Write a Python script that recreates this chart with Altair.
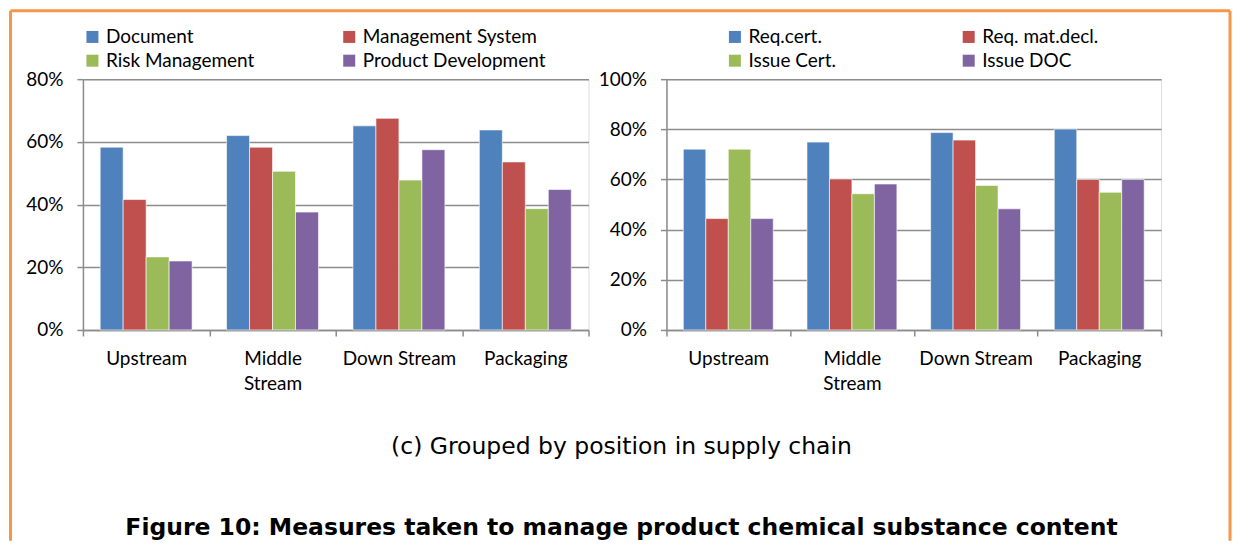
import altair as alt
import pandas as pd

categories = ["Upstream", "Middle Stream", "Down Stream", "Packaging"]

left_series = ["Document", "Management System", "Risk Management", "Product Development"]
document = [58.3, 62.0, 65.1, 63.8]
management_system = [41.6, 58.3, 67.5, 53.6]
risk_management = [23.3, 50.6, 47.8, 38.7]
product_development = [22.0, 37.6, 57.5, 44.8]

right_series = ["Req.cert.", "Req. mat.decl.", "Issue Cert.", "Issue DOC"]
req_cert = [72.1, 74.9, 78.7, 80.1]
req_mat_decl = [44.4, 60.2, 75.7, 60.0]
issue_cert = [72.1, 54.3, 57.6, 54.9]
issue_doc = [44.4, 58.2, 48.3, 60.0]

left_ticks = [0, 0.2, 0.4, 0.6, 0.8]
right_ticks = [0, 0.2, 0.4, 0.6, 0.8, 1.0]

caption = "(c) Grouped by position in supply chain"
figure_title = "Figure 10: Measures taken to manage product chemical substance content"

colors = ["#4F81BD", "#C0504D", "#9BBB59", "#8064A2"]
GRAY = "#8c8c8c"
ORANGE = "#F79646"
FONT = "Lato"


def build_df(series, values):
    rows = []
    for s, vals in zip(series, values):
        for c, v in zip(categories, vals):
            rows.append({"cat": c, "series": s, "value": v / 100.0})
    return pd.DataFrame(rows)


left_df = build_df(left_series, [document, management_system, risk_management, product_development])
right_df = build_df(right_series, [req_cert, req_mat_decl, issue_cert, issue_doc])


def panel(df, series, ymax, ticks, legend_x, col_pad, width, height):
    return alt.Chart(df).mark_bar(stroke="white", strokeWidth=0.6).encode(
        x=alt.X(
            "cat:N",
            sort=categories,
            scale=alt.Scale(paddingInner=0, paddingOuter=0),
            axis=alt.Axis(
                title=None, labelAngle=0, tickBand="extent", grid=False,
                domainColor=GRAY, domainWidth=1.5, tickColor=GRAY, tickWidth=1.5,
                tickSize=6, labelPadding=14, labelFont=FONT, labelFontSize=19,
                labelColor="black", labelLineHeight=25, labelBaseline="top",
                labelExpr="datum.value == 'Middle Stream' ? ['Middle', 'Stream'] : datum.value",
            ),
        ),
        xOffset=alt.XOffset(
            "series:N", sort=series,
            scale=alt.Scale(paddingInner=0, paddingOuter=0.75),
        ),
        y=alt.Y(
            "value:Q",
            scale=alt.Scale(domain=[0, ymax], nice=False),
            axis=alt.Axis(
                title=None, format=".0%", values=ticks, grid=True,
                gridColor=GRAY, gridWidth=1.5, domainColor=GRAY, domainWidth=1.5,
                tickColor=GRAY, tickWidth=1.5, tickSize=6, labelPadding=14,
                labelFont=FONT, labelFontSize=19, labelColor="black",
            ),
        ),
        color=alt.Color(
            "series:N", sort=series,
            scale=alt.Scale(domain=series, range=colors),
            legend=alt.Legend(
                title=None, orient="none", legendX=legend_x, legendY=-52,
                direction="horizontal",
                columns=2, columnPadding=col_pad, rowPadding=4,
                symbolType="square", symbolSize=144, symbolStrokeWidth=0,
                labelFont=FONT, labelFontSize=19, labelColor="black",
                labelOffset=4, padding=0, labelLimit=400,
            ),
        ),
    ).properties(width=width, height=height)


left_bars = panel(left_df, left_series, 0.8, left_ticks, 0, 85, 506, 251)
right_bars = panel(right_df, right_series, 1.0, right_ticks, 59, 123, 495, 251)

one = alt.Chart(pd.DataFrame({"k": [0]}))

border_left = one.mark_rule(color=ORANGE, strokeWidth=3).encode(
    x=alt.value(-72.5), y=alt.value(-68.5), y2=alt.value(462))
border_top = one.mark_rule(color=ORANGE, strokeWidth=3).encode(
    x=alt.value(-72.5), x2=alt.value(1148), y=alt.value(-68.5))
border_right = one.mark_rule(color=ORANGE, strokeWidth=3).encode(
    x=alt.value(1148), y=alt.value(-68.5), y2=alt.value(462))

cap_text = one.mark_text(
    text=caption, font="DejaVu Sans", fontSize=23.5, align="center",
    baseline="alphabetic", color="black",
).encode(x=alt.value(539), y=alt.value(375))

fig_text = one.mark_text(
    text=figure_title, font="DejaVu Sans", fontSize=23.5, fontWeight="bold",
    align="center", baseline="alphabetic", color="black",
).encode(x=alt.value(539), y=alt.value(456))

left = alt.layer(left_bars, border_left, border_top, border_right, cap_text, fig_text)

chart = alt.hconcat(left, right_bars, spacing=78, bounds="flush").resolve_scale(
    color="independent", y="independent", x="independent", xOffset="independent"
).properties(padding=0).configure_view(strokeWidth=0).configure(background="white")

chart.save("out.html", embed_options={"renderer": "svg", "actions": False})
